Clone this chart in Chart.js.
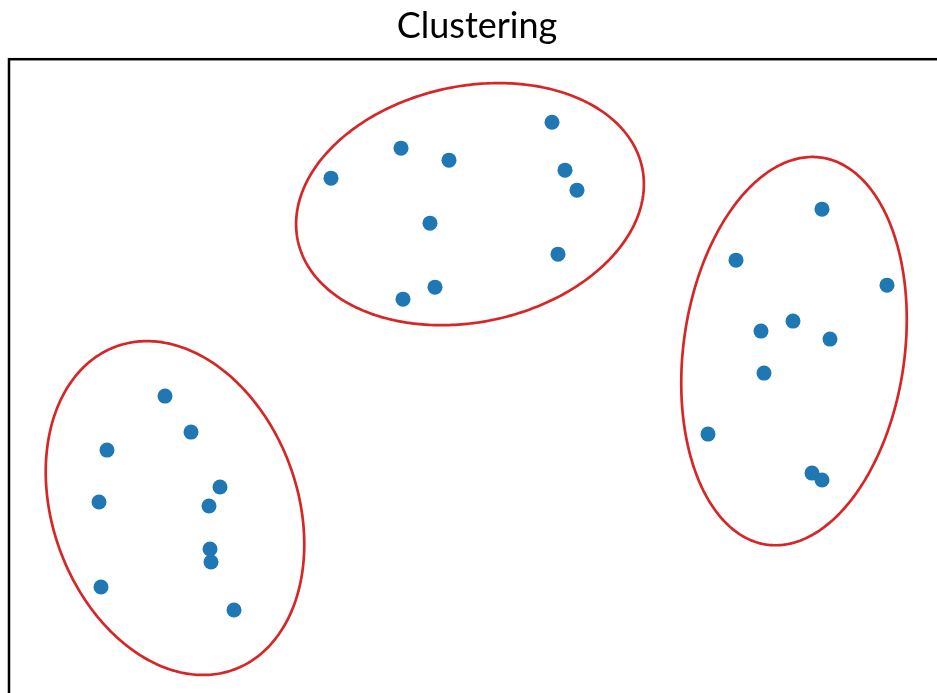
<!DOCTYPE html>
<html>
<head>
<meta charset="utf-8">
<script src="https://cdn.jsdelivr.net/npm/chart.js@4/dist/chart.umd.min.js"></script>
<style>
  html, body { margin: 0; padding: 0; overflow: hidden; background: #ffffff; }
  #wrap { position: absolute; left: 0; top: 0; }
</style>
</head>
<body>
<div id="wrap"><canvas id="clusterChart" width="945" height="705"></canvas></div>
<script>
// cluster points (arbitrary units)
const cluster1X = [156, 182, 98, 211, 90, 200, 201, 202, 92, 225];
const cluster1Y = [309, 273, 255, 218, 203, 199, 156, 143, 118, 95];
const cluster2X = [543, 392, 440, 322, 556, 568, 421, 549, 426, 394];
const cluster2Y = [583, 557, 545, 527, 535, 515, 482, 451, 418, 406];
const cluster3X = [813, 727, 878, 784, 752, 821, 755, 699, 803, 813];
const cluster3Y = [496, 445, 420, 384, 374, 366, 332, 271, 232, 225];

// cluster ellipses: centre, full width / height, angle in degrees
const ellipseX = [166, 461, 785];
const ellipseY = [197, 501, 354];
const ellipseW = [344, 352, 391];
const ellipseH = [245, 236, 221];
const ellipseAngle = [-70, 12, 82];

const toPoints = (xs, ys) => xs.map((x, i) => ({ x: x, y: ys[i] }));
const allPoints = [].concat(
    toPoints(cluster1X, cluster1Y),
    toPoints(cluster2X, cluster2Y),
    toPoints(cluster3X, cluster3Y)
);

// Draw the ellipses in data space through the chart scales
const ellipsePlugin = {
    id: 'ellipses',
    beforeDatasetsDraw(chart) {
        const ctx = chart.ctx;
        const xs = chart.scales.x;
        const ys = chart.scales.y;
        ctx.save();
        ctx.strokeStyle = '#d62728';
        ctx.lineWidth = 2.7;
        ellipseX.forEach((cx, i) => {
            const cy = ellipseY[i];
            const a = ellipseW[i] / 2;
            const b = ellipseH[i] / 2;
            const th = ellipseAngle[i] * Math.PI / 180;
            ctx.beginPath();
            for (let k = 0; k <= 360; k++) {
                const t = k * Math.PI / 180;
                const dx = a * Math.cos(t) * Math.cos(th) - b * Math.sin(t) * Math.sin(th);
                const dy = a * Math.cos(t) * Math.sin(th) + b * Math.sin(t) * Math.cos(th);
                const px = xs.getPixelForValue(cx + dx);
                const py = ys.getPixelForValue(cy + dy);
                if (k === 0) ctx.moveTo(px, py); else ctx.lineTo(px, py);
            }
            ctx.closePath();
            ctx.stroke();
        });
        ctx.restore();
    }
};

// Axes frame (matplotlib style box)
const framePlugin = {
    id: 'frame',
    afterDraw(chart) {
        const { ctx, chartArea } = chart;
        ctx.save();
        ctx.strokeStyle = '#000000';
        ctx.lineWidth = 2.5;
        ctx.strokeRect(chartArea.left, chartArea.top,
            chartArea.right - chartArea.left, chartArea.bottom - chartArea.top);
        ctx.restore();
    }
};

const ctx = document.getElementById('clusterChart').getContext('2d');

new Chart(ctx, {
    type: 'scatter',
    data: {
        datasets: [{
            label: 'points',
            data: allPoints,
            backgroundColor: '#1f77b4',
            borderWidth: 0,
            pointRadius: 7.5,
            pointHoverRadius: 7.5
        }]
    },
    options: {
        responsive: false,
        animation: false,
        layout: { autoPadding: false, padding: { left: 9, right: 0, top: 0, bottom: 0 } },
        scales: {
            x: { display: false, min: 0, max: 936 },
            y: { display: false, min: 0, max: 646 }
        },
        plugins: {
            legend: { display: false },
            tooltip: { enabled: false },
            title: {
                display: true,
                text: 'Clustering',
                color: '#000000',
                font: { family: 'Lato', size: 36, weight: 'normal' },
                padding: { top: 5, bottom: 11 }
            }
        }
    },
    plugins: [ellipsePlugin, framePlugin]
});
</script>
</body>
</html>
